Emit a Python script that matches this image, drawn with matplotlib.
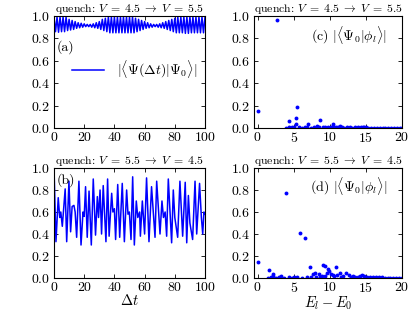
import numpy as np
import matplotlib
matplotlib.use("Agg")
import matplotlib.pyplot as plt

plt.rcParams['font.family'] = 'serif'
plt.rcParams['font.serif'] = ['cmr10']
plt.rcParams['mathtext.fontset'] = 'cm'
plt.rcParams['axes.formatter.use_mathtext'] = True
plt.rcParams['xtick.direction'] = 'in'
plt.rcParams['ytick.direction'] = 'in'
plt.rcParams['xtick.top'] = True
plt.rcParams['ytick.right'] = True

# (a) fidelity, quench 4.5 -> 5.5 : maxima at even t, minima at odd t
t_top_max = np.arange(0, 101, 2)
top_max = [0.99, 0.99, 0.99, 0.99, 0.99, 0.97, 0.96, 0.95, 0.94, 0.935,
           0.93, 0.925, 0.925, 0.93, 0.94, 0.95, 0.97, 0.98, 0.99, 0.99,
           0.99, 0.99, 0.99, 0.99, 0.99, 0.99, 0.99, 0.98, 0.97, 0.96,
           0.95, 0.94, 0.93, 0.925, 0.925, 0.93, 0.94, 0.95, 0.96, 0.97,
           0.98, 0.99, 0.99, 0.99, 0.99, 0.99, 0.99, 0.99, 0.99, 0.99, 0.99]
t_top_min = np.arange(1, 100, 2)
top_min = [0.86, 0.855, 0.86, 0.86, 0.87, 0.875, 0.88, 0.89, 0.895, 0.90,
           0.905, 0.905, 0.90, 0.895, 0.89, 0.88, 0.87, 0.86, 0.85, 0.85,
           0.85, 0.85, 0.85, 0.85, 0.85, 0.85, 0.85, 0.86, 0.87, 0.88,
           0.89, 0.895, 0.90, 0.905, 0.90, 0.895, 0.89, 0.88, 0.87, 0.86,
           0.85, 0.85, 0.85, 0.845, 0.845, 0.85, 0.85, 0.85, 0.85, 0.85]

# (b) fidelity, quench 5.5 -> 4.5
t_bot = [0, 1.3, 2.8, 3.8, 4.5, 5.5, 7.4, 8.4, 9.9, 11.0, 12.0, 13.2, 14.0,
         15.0, 16.5, 17.9, 19.2, 20.0, 20.9, 22.0, 23.2, 24.7, 26.0, 27.5,
         28.7, 29.5, 30.5, 31.5, 32.6, 34.4, 35.5, 36.5, 38.2, 39.0, 40.0,
         40.8, 42.2, 43.5, 45.2, 46.6, 48.1, 49.0, 49.9, 51.0, 52.1, 53.2,
         54.5, 55.5, 56.7, 57.2, 58.5, 60.0, 61.3, 62.9, 64.6, 66.9, 68.0,
         70.2, 71.5, 72.5, 73.6, 74.6, 75.7, 77.9, 79.0, 80.0, 81.9, 83.4,
         85.2, 86.9, 87.9, 89.0, 90.0, 91.8, 93.4, 94.5, 96.4, 97.6, 98.5,
         99.3, 100]
f_bot = [1.0, 0.33, 0.73, 0.55, 0.60, 0.47, 0.81, 0.33, 0.88, 0.42, 0.65,
         0.66, 0.60, 0.37, 0.88, 0.30, 0.60, 0.56, 0.83, 0.37, 0.79, 0.30,
         0.90, 0.39, 0.74, 0.55, 0.80, 0.40, 0.84, 0.33, 0.90, 0.38, 0.77,
         0.60, 0.63, 0.35, 0.85, 0.37, 0.86, 0.33, 0.80, 0.58, 0.60, 0.35,
         0.92, 0.30, 0.70, 0.55, 0.60, 0.38, 0.70, 0.40, 0.91, 0.33, 0.83,
         0.37, 0.88, 0.40, 0.70, 0.55, 0.60, 0.38, 0.90, 0.32, 0.80, 0.55,
         0.37, 0.88, 0.38, 0.87, 0.32, 0.75, 0.50, 0.35, 0.88, 0.40, 0.86,
         0.55, 0.40, 0.60, 0.58]

# (c) overlaps, quench 4.5 -> 5.5
e_c = [0.0, 2.73, 4.4, 5.3, 5.28, 5.5, 7.0, 8.2, 8.7, 10.4, 10.5, 11.4, 14.8,
       3.9, 4.3, 4.8, 5.1, 5.7, 6.1, 6.5, 6.9, 7.4, 7.8, 8.5, 9.0, 9.4, 9.8,
       10.2, 10.8, 11.1, 11.7, 12.0, 12.4, 12.8, 13.1, 13.5, 13.9, 14.3,
       14.6, 15.0, 15.3, 15.7, 16.1, 16.5, 16.9, 17.3, 17.7, 18.1, 18.5,
       18.9, 19.3, 19.7, 20.0]
o_c = [0.152, 0.96, 0.063, 0.087, 0.036, 0.19, 0.033, 0.018, 0.071, 0.033,
       0.020, 0.015, 0.012,
       0.004, 0.005, 0.006, 0.008, 0.005, 0.004, 0.006, 0.005, 0.004, 0.007,
       0.005, 0.006, 0.008, 0.005, 0.010, 0.006, 0.007, 0.005, 0.004, 0.006,
       0.005, 0.004, 0.005, 0.006, 0.008, 0.010, 0.006, 0.004, 0.003, 0.004,
       0.003, 0.004, 0.003, 0.003, 0.004, 0.003, 0.003, 0.003, 0.002, 0.003]

# (d) overlaps, quench 5.5 -> 4.5
e_d = [0.0, 1.53, 2.08, 2.2, 3.3, 3.94, 5.88, 6.57, 7.2, 7.7, 7.96, 8.5,
       9.07, 9.4, 9.7, 9.6, 9.3, 10.1, 10.83, 11.06, 11.4, 11.85, 12.2, 12.6,
       13.2, 14.5, 14.8, 8.9, 9.9, 10.4, 11.6,
       1.5, 1.9, 2.5, 2.9, 3.6, 4.3, 4.7, 5.1, 5.5, 6.2, 6.9, 7.4, 8.1, 8.7,
       10.6, 12.9, 13.5, 13.9, 14.2, 15.2, 15.6, 16.0, 16.4, 16.8, 17.2,
       17.6, 18.0, 18.4, 18.8, 19.2, 19.6, 20.0]
o_d = [0.15, 0.075, 0.036, 0.02, 0.015, 0.77, 0.41, 0.36, 0.096, 0.04,
       0.048, 0.033, 0.114, 0.108, 0.084, 0.045, 0.02, 0.036, 0.102, 0.03,
       0.042, 0.018, 0.042, 0.024, 0.018, 0.03, 0.018, 0.015, 0.06, 0.025,
       0.012,
       0.004, 0.005, 0.004, 0.006, 0.004, 0.005, 0.004, 0.006, 0.005, 0.004,
       0.006, 0.008, 0.010, 0.012, 0.015, 0.010, 0.008, 0.012, 0.015, 0.010,
       0.008, 0.006, 0.005, 0.006, 0.005, 0.004, 0.004, 0.003, 0.004, 0.003,
       0.003, 0.003]

# interleave maxima/minima of (a) in time order
t_top = np.concatenate([t_top_max, t_top_min])
f_top = np.concatenate([top_max, top_min])
order = np.argsort(t_top)
t_top, f_top = t_top[order], f_top[order]

fig = plt.figure(figsize=(4.15, 3.12), dpi=100)
W, H = 415.0, 312.0
ax_a = fig.add_axes([54 / W, (312 - 128) / H, 151 / W, 112 / H])
ax_c = fig.add_axes([254 / W, (312 - 128) / H, 148 / W, 112 / H])
ax_b = fig.add_axes([54 / W, (312 - 278) / H, 151 / W, 110 / H])
ax_d = fig.add_axes([254 / W, (312 - 278) / H, 148 / W, 110 / H])

title_a = r'quench: $V\;=\;4.5\;\rightarrow\;V\;=\;5.5$'
title_b = r'quench: $V\;=\;5.5\;\rightarrow\;V\;=\;4.5$'

ax_a.plot(t_top, f_top, color='blue', lw=1.1,
          label=r'$|\langle\Psi(\Delta t)|\Psi_0\rangle|$')
ax_a.legend(loc='center right', bbox_to_anchor=(1.03, 0.52), frameon=False,
            fontsize=10, handlelength=2.3, handletextpad=0.9)
ax_a.text(0.02, 0.72, '(a)', transform=ax_a.transAxes, fontsize=10,
          va='center', ha='left')

ax_b.plot(t_bot, f_bot, color='blue', lw=1.1)
ax_b.text(0.02, 0.89, '(b)', transform=ax_b.transAxes, fontsize=10,
          va='center', ha='left')
ax_b.set_xlabel(r'$\Delta t$', fontsize=10.5, labelpad=-0.5)

ax_c.plot(e_c, o_c, 'o', color='blue', ms=2.8, mec='none')
ax_c.text(0.9, 0.83, r'(c) $|\langle\Psi_0|\phi_l\rangle|$',
          transform=ax_c.transAxes, fontsize=10, va='center', ha='right')

ax_d.plot(e_d, o_d, 'o', color='blue', ms=2.8, mec='none')
ax_d.text(0.9, 0.83, r'(d) $|\langle\Psi_0|\phi_l\rangle|$',
          transform=ax_d.transAxes, fontsize=10, va='center', ha='right')
ax_d.set_xlabel(r'$E_l - E_0$', fontsize=10.5, labelpad=-0.5)

for ax in (ax_a, ax_b):
    ax.set_xlim(0, 100)
    ax.set_xticks([0, 20, 40, 60, 80, 100])
for ax in (ax_c, ax_d):
    ax.set_xlim(-0.5, 20)
    ax.set_xticks([0, 5, 10, 15, 20])
for ax, title in ((ax_a, title_a), (ax_c, title_a), (ax_b, title_b), (ax_d, title_b)):
    ax.set_ylim(0, 1)
    ax.set_yticks([0.0, 0.2, 0.4, 0.6, 0.8, 1.0])
    ax.set_title(title, fontsize=8.5, pad=3)
    ax.tick_params(labelsize=10, length=3, width=0.6)
    ax.tick_params(axis='x', pad=2)
    ax.tick_params(axis='y', pad=2.5)
    for sp in ax.spines.values():
        sp.set_linewidth(0.8)

fig.savefig('out.png', dpi=100)
